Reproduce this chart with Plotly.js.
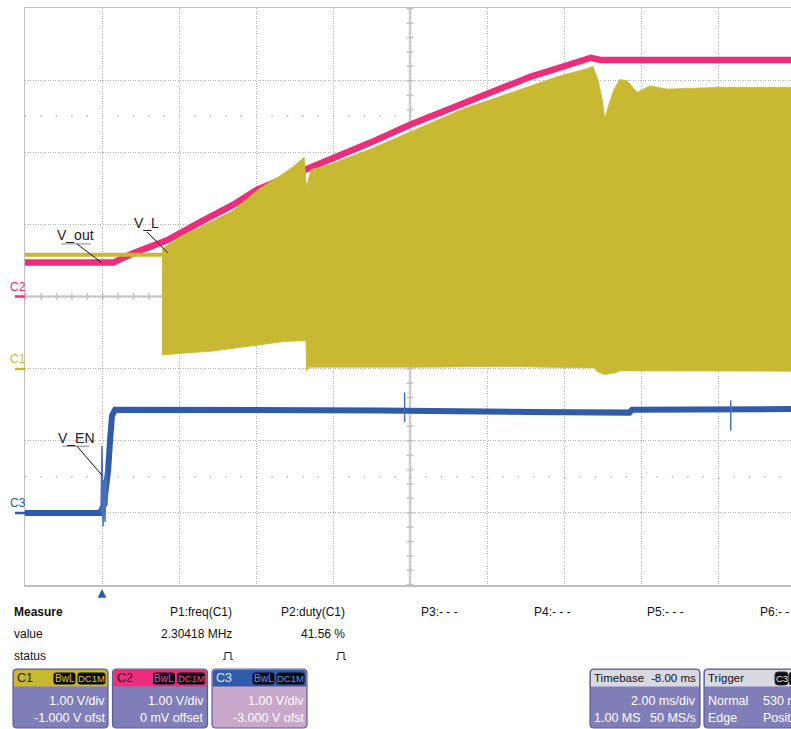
<!DOCTYPE html>
<html><head><meta charset="utf-8">
<script src="https://cdn.plot.ly/plotly-3.0.1.min.js"></script>
<style>html,body{margin:0;padding:0;overflow:hidden;background:#fff}#chart{width:791px;height:729px}</style>
</head><body><div id="chart"></div>
<script>
// ---------- data (time in ms, voltages in V per channel) ----------
// C2 : V_out
const vout_t = [-2.0, 0.29, 0.81, 1.69, 2.55, 3.40, 4.03, 4.99, 5.87, 6.96, 8.00, 9.38, 10.26, 11.14, 11.58, 12.55, 12.70, 12.94, 15.53, 17.9];
const vout_v = [0.47, 0.47, 0.60, 0.78, 1.03, 1.27, 1.48, 1.69, 1.90, 2.13, 2.38, 2.68, 2.87, 3.05, 3.12, 3.28, 3.31, 3.28, 3.28, 3.28];
// C1 : V_L before switching starts
const vl_pre_t = [-2.0, 1.56];
const vl_pre_v = [1.58, 1.58];
// C1 : V_L switching envelope (top and bottom)
const vl_top_t = [1.56, 2.03, 2.55, 3.40, 4.10, 4.62, 4.99, 5.25, 5.31, 5.43, 5.87, 6.96, 8.00, 9.38, 10.26, 11.14, 11.90, 12.55, 12.75, 12.88, 12.99, 13.06, 13.17, 13.30, 13.45, 13.64, 13.90, 14.23, 14.68, 16.05, 17.9];
const vl_top_v = [1.66, 1.83, 1.96, 2.19, 2.50, 2.67, 2.81, 2.93, 2.51, 2.76, 2.82, 3.04, 3.28, 3.60, 3.76, 3.92, 4.06, 4.15, 4.19, 4.01, 3.74, 3.46, 3.67, 3.875, 4.01, 3.99, 3.83, 3.92, 3.875, 3.90, 3.90];
const vl_bot_t = [1.56, 2.23, 2.81, 3.32, 4.10, 4.70, 5.30, 5.31, 5.38, 8.26, 10.34, 12.81, 12.86, 13.04, 13.32, 13.45, 14.49, 17.9];
const vl_bot_v = [0.19, 0.22, 0.24, 0.28, 0.33, 0.375, 0.39, -0.03, 0.02, 0.02, 0.03, 0.01, -0.04, -0.08, -0.06, -0.03, -0.035, -0.035];
// C3 : V_EN
const ven_t = [-2.0, -0.05, 0.05, 0.10, 0.16, 0.21, 0.26, 0.34, 2.55, 7.22, 11.12, 13.70, 13.77, 17.9];
const ven_v = [0.0, 0.0, 0.11, 0.32, 0.60, 1.01, 1.35, 1.43, 1.43, 1.42, 1.40, 1.39, 1.43, 1.44];
const ven_glitch_t = [-0.026, 0.0, 0.026, 0.052, 0.078, 0.104, 0.13, null, 7.86, 7.86, null, 16.33, 16.33];
const ven_glitch_v = [0.0, 0.93, -0.19, 0.46, -0.125, 0.60, 0.11, null, 1.67, 1.26, null, 1.56, 1.14];

// ---------- text content ----------
const measureHeads = ['P1:freq(C1)', 'P2:duty(C1)', 'P3:- - -', 'P4:- - -', 'P5:- - -', 'P6:- - -'];
const measureValues = ['2.30418 MHz', '41.56 %'];
const channels = [
  {name:'C1', vdiv:'1.00 V/div', ofs:'-1.000 V ofst'},
  {name:'C2', vdiv:'1.00 V/div', ofs:'0 mV offset'},
  {name:'C3', vdiv:'1.00 V/div', ofs:'-3.000 V ofst'}
];
const timebase = {delay:'-8.00 ms', tdiv:'2.00 ms/div', pts:'1.00 MS', rate:'50 MS/s'};
const trigger = {src:'C3', mode:'Normal', level:'530 mV', type:'Edge', slope:'Positive'};

// ---------- styling ----------
const YEL = '#C9B832', PINK = '#EC2D7B', BLUE = '#2F5BAA';
const BODY = '#7F7EB9', C3BODY = '#C9A7CB', HDRGRAY = '#D9D9E1', BORDER = '#5E5E96';
const FS = '"Liberation Sans", Arial, sans-serif';
const FN = FS;
const W = 791, H = 729;
const X = p => p / W, Y = p => 1 - p / H;
const T_RIGHT = -2 + (W - 25) / 77 * 2;

function rr(x0, y0, x1, y1, rt, rb) {
  let s = 'M' + X(x0 + rt) + ',' + Y(y0) + ' L' + X(x1 - rt) + ',' + Y(y0);
  s += ' Q' + X(x1) + ',' + Y(y0) + ' ' + X(x1) + ',' + Y(y0 + rt);
  s += ' L' + X(x1) + ',' + Y(y1 - rb);
  s += ' Q' + X(x1) + ',' + Y(y1) + ' ' + X(x1 - rb) + ',' + Y(y1);
  s += ' L' + X(x0 + rb) + ',' + Y(y1);
  s += ' Q' + X(x0) + ',' + Y(y1) + ' ' + X(x0) + ',' + Y(y1 - rb);
  s += ' L' + X(x0) + ',' + Y(y0 + rt);
  s += ' Q' + X(x0) + ',' + Y(y0) + ' ' + X(x0 + rt) + ',' + Y(y0) + ' Z';
  return s;
}

const traces = [
  { x: vl_top_t.concat(vl_bot_t.slice().reverse()), y: vl_top_v.concat(vl_bot_v.slice().reverse()),
    yaxis: 'y2', mode: 'lines', fill: 'toself', fillcolor: YEL, line: {color: YEL, width: 0.8}, hoverinfo: 'skip' },
  { x: vl_pre_t, y: vl_pre_v, yaxis: 'y2', mode: 'lines', line: {color: YEL, width: 4}, hoverinfo: 'skip' },
  { x: vout_t, y: vout_v, yaxis: 'y', mode: 'lines', line: {color: PINK, width: 6.5}, hoverinfo: 'skip' },
  { x: ven_t, y: ven_v, yaxis: 'y3', mode: 'lines', line: {color: BLUE, width: 6}, hoverinfo: 'skip' },
  { x: ven_glitch_t, y: ven_glitch_v, yaxis: 'y3', mode: 'lines', line: {color: '#4670BE', width: 1.5}, hoverinfo: 'skip', connectgaps: false }
];

const shapes = [];
const ann = [];
function txt(px, py, text, size, color, xa, extra) {
  ann.push(Object.assign({xref:'paper', yref:'paper', x:X(px), y:Y(py), xanchor:xa || 'left', yanchor:'middle',
    text:text, showarrow:false, font:{size:size, color:color, family:FN}}, extra || {}));
}
const GRIDC = '#d0d0d0';
// centre lines with minor ticks and dotted rows
shapes.push({type:'line', xref:'x', yref:'y', x0:8, x1:8, y0:-4, y1:4, line:{color:GRIDC, width:2.5}, layer:'below'});
shapes.push({type:'line', xref:'x', yref:'y', x0:-2, x1:T_RIGHT, y0:0, y1:0, line:{color:GRIDC, width:2.5}, layer:'below'});
shapes.push({type:'line', xref:'x', yref:'y', x0:8, x1:8, y0:4, y1:-4, line:{color:'#c4c4c4', width:7, dash:'1.5px,12.9px'}, layer:'below'});
shapes.push({type:'line', xref:'x', yref:'y', x0:-2, x1:T_RIGHT, y0:0, y1:0, line:{color:'#c4c4c4', width:7, dash:'1.5px,13.9px'}, layer:'below'});
[2.5, -2.5].forEach(d => shapes.push({type:'line', xref:'x', yref:'y', x0:-2, x1:T_RIGHT, y0:d, y1:d, line:{color:'#9c9c9c', width:1.3, dash:'1.3px,14.1px'}, layer:'below'}));

// labels with leaders
const LBL = {size: 14, color: '#222', family: FS};
ann.push({xref:'x', yref:'y', x:-0.70, y:0.854, xanchor:'center', yanchor:'middle', text:'V_out', showarrow:false, font:LBL});
ann.push({xref:'x', yref:'y', x:1.156, y:1.021, xanchor:'center', yanchor:'middle', text:'V_L', showarrow:false, font:LBL});
ann.push({xref:'x', yref:'y', x:-0.675, y:-1.958, xanchor:'center', yanchor:'middle', text:'V_EN', showarrow:false, font:LBL});
shapes.push({type:'line', xref:'x', yref:'y', x0:-1.065, x1:-0.286, y0:0.729, y1:0.729, line:{color:'#888', width:1}});
shapes.push({type:'line', xref:'x', yref:'y', x0:-0.649, x1:0, y0:0.729, y1:0.465, line:{color:'#111', width:1}});
shapes.push({type:'line', xref:'x', yref:'y', x0:1.169, x1:1.714, y0:0.896, y1:0.604, line:{color:'#111', width:1}});
shapes.push({type:'line', xref:'x', yref:'y', x0:-1.039, x1:-0.338, y0:-2.076, y1:-2.076, line:{color:'#888', width:1}});
shapes.push({type:'line', xref:'x', yref:'y', x0:-0.649, x1:0, y0:-2.076, y1:-2.479, line:{color:'#111', width:1}});

// channel ground markers
[[ 'C2', PINK, 296.5], ['C1', YEL, 369], ['C3', BLUE, 513]].forEach(([n, c, py]) => {
  shapes.push({type:'line', xref:'paper', yref:'paper', x0:X(15), x1:X(25), y0:Y(py), y1:Y(py), line:{color:c, width:2.5}});
  txt(18, py - 10, n, 12, c, 'center');
});
// trigger position marker (below the plot at t = 0)
shapes.push({type:'path', xref:'paper', yref:'paper', fillcolor:BLUE, line:{color:BLUE, width:0.5},
  path:'M'+X(98)+','+Y(597.5)+' L'+X(106)+','+Y(597.5)+' L'+X(102)+','+Y(589.5)+' Z'});

// measurement panel
txt(12, 612, '<b>Measure</b>', 12, '#111', 'left');
txt(12, 634, 'value', 12, '#111', 'left');
txt(12, 656, 'status', 12, '#111', 'left');
measureHeads.forEach((h, i) => txt(234 + 113 * i, 612, h, 12, '#111', 'right'));
measureValues.forEach((v, i) => {
  txt(234 + 113 * i, 634, v, 12, '#111', 'right');
  const cx = 228 + 113 * i;
  shapes.push({type:'path', xref:'paper', yref:'paper', line:{color:'#222', width:1},
    path:'M'+X(cx-5)+','+Y(659.5)+' L'+X(cx-3)+','+Y(659.5)+' L'+X(cx-3)+','+Y(652.5)+' L'+X(cx+3)+','+Y(652.5)+' L'+X(cx+3)+','+Y(659.5)+' L'+X(cx+5)+','+Y(659.5)});
});

// channel boxes
const chColors = [YEL, PINK, BLUE];
const chBodies = [BODY, BODY, C3BODY];
const chNameColors = ['#1a1a1a', '#2a0814', '#dfe6ff'];
const badgeText = ['#D8C63A', '#F04A8E', '#6A90E0'];
channels.forEach((ch, i) => {
  const x0 = 13 + 99.5 * i, x1 = x0 + 95;
  shapes.push({type:'path', xref:'paper', yref:'paper', path: rr(x0, 669, x1, 728, 4, 4), fillcolor: chBodies[i], line:{color:BORDER, width:1.2}});
  shapes.push({type:'path', xref:'paper', yref:'paper', path: rr(x0 + 1, 670, x1 - 1, 686.5, 3, 0), fillcolor: chColors[i], line:{width:0}});
  shapes.push({type:'path', xref:'paper', yref:'paper', path: rr(x1 - 55, 672, x1 - 32, 685, 3, 3), fillcolor:'#0b0b12', line:{color:chColors[i], width:1}});
  shapes.push({type:'path', xref:'paper', yref:'paper', path: rr(x1 - 31, 672, x1 - 2, 685, 3, 3), fillcolor:'#0b0b12', line:{color:chColors[i], width:1}});
  txt(x1 - 43.5, 678.5, 'BwL', 10, badgeText[i], 'center');
  txt(x1 - 16.5, 678.5, 'DC1M', 9.5, badgeText[i], 'center');
  txt(x0 + 2, 678, ch.name, 12.5, chNameColors[i], 'left');
  txt(x1 - 1.5, 701, ch.vdiv, 12.5, '#fff', 'right');
  txt(x1 - 1.5, 718, ch.ofs, 12.5, '#fff', 'right');
});

// timebase box
shapes.push({type:'path', xref:'paper', yref:'paper', path: rr(590, 669, 700, 728, 4, 4), fillcolor: BODY, line:{color:BORDER, width:1.2}});
shapes.push({type:'path', xref:'paper', yref:'paper', path: rr(591, 670, 699, 686.5, 3, 0), fillcolor: HDRGRAY, line:{width:0}});
txt(592, 678, 'Timebase', 11.5, '#111', 'left');
txt(697.5, 678, timebase.delay, 11.5, '#111', 'right');
txt(697.5, 701, timebase.tdiv, 12.5, '#fff', 'right');
txt(592, 718, timebase.pts, 12.5, '#fff', 'left');
txt(697.5, 718, timebase.rate, 12.5, '#fff', 'right');

// trigger box (cut by the window edge)
shapes.push({type:'path', xref:'paper', yref:'paper', path: rr(704, 669, 812, 728, 4, 4), fillcolor: BODY, line:{color:BORDER, width:1.2}});
shapes.push({type:'path', xref:'paper', yref:'paper', path: rr(705, 670, 811, 686.5, 3, 0), fillcolor: HDRGRAY, line:{width:0}});
shapes.push({type:'path', xref:'paper', yref:'paper', path: rr(775, 672, 788, 685, 3, 3), fillcolor:'#0b0b12', line:{color:'#333', width:1}});
shapes.push({type:'path', xref:'paper', yref:'paper', path: rr(789, 672, 812, 685, 3, 3), fillcolor:'#0b0b12', line:{color:'#333', width:1}});
txt(781.5, 678.5, trigger.src, 9.5, '#e8e8e8', 'center');
txt(790, 678.5, 'DC', 9.5, '#e8e8e8', 'left');
txt(706, 678, 'Trigger', 11.5, '#111', 'left');
txt(706, 701, trigger.mode, 12.5, '#fff', 'left');
txt(761, 701, trigger.level, 12.5, '#fff', 'left');
txt(706, 718, trigger.type, 12.5, '#fff', 'left');
txt(761, 718, trigger.slope, 12.5, '#fff', 'left');

const axCommon = {showticklabels:false, ticks:'', zeroline:false, fixedrange:true};
const layout = {
  width: W, height: H, margin:{l:0, r:0, t:0, b:0},
  paper_bgcolor:'#fff', plot_bgcolor:'#fff', showlegend:false,
  xaxis: Object.assign({domain:[25 / W, 1], range:[-2, T_RIGHT], dtick:2, tick0:0,
    showgrid:true, gridcolor:'#b4b4b4', griddash:'1px,1.5px', gridwidth:1,
    showline:true, linecolor:'#bfbfbf', linewidth:1.5, mirror:true}, axCommon),
  yaxis: Object.assign({domain:[Y(585), Y(8)], range:[-4, 4], dtick:1, tick0:0,
    showgrid:true, gridcolor:'#b4b4b4', griddash:'1px,1.5px', gridwidth:1,
    showline:true, linecolor:'#bfbfbf', linewidth:1.5, mirror:false}, axCommon),
  yaxis2: Object.assign({overlaying:'y', range:[-3, 5], visible:false}, axCommon),
  yaxis3: Object.assign({overlaying:'y', range:[-1, 7], visible:false}, axCommon),
  shapes: shapes, annotations: ann
};
Plotly.newPlot('chart', traces, layout, {staticPlot:true, displayModeBar:false});
</script></body></html>
